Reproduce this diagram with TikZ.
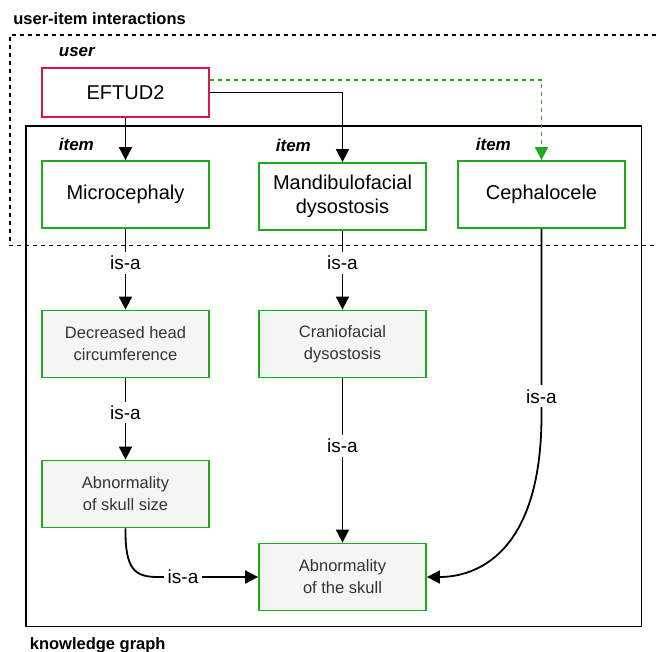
\documentclass[tikz,border=0pt]{standalone}
\usepackage{fontspec}
\setmainfont{Liberation Sans}
\usetikzlibrary{arrows.meta}
\definecolor{userred}{RGB}{224,20,76}
\definecolor{itemgreen}{RGB}{30,170,30}
\definecolor{conceptfill}{HTML}{F5F5F5}
\definecolor{concepttext}{HTML}{333333}

\begin{document}
\begin{tikzpicture}[x=1pt, y=-1pt, line width=1.8pt,
    >={Triangle[length=13pt,width=13pt]},
    entity/.style={draw=itemgreen, minimum width=167pt, minimum height=67pt,
	inner sep=0pt, align=center, font=\fontsize{20}{23.5}\selectfont},
    concept/.style={entity, fill=conceptfill, text=concepttext,
	font=\fontsize{16.5}{22}\selectfont},
    isa/.style={fill=white, inner sep=4pt, font=\fontsize{19}{22}\selectfont},
    group/.style={anchor=base west, inner sep=0pt,
	font=\fontsize{16.5}{20}\selectfont\bfseries},
    role/.style={anchor=base west, inner sep=0pt,
	font=\fontsize{17}{20}\selectfont\bfseries\itshape}]
    \useasboundingbox (0, 0) rectangle (656, 652);

    % user-item interactions (open on the right)
    \draw [dash pattern=on 4pt off 4pt] (656, 35) -- (10, 35) -- (10, 245.5) -- (656, 245.5);
    \path (12.5, 25) node [group] (uii) {user-item interactions};

    % knowledge graph
    \draw (26, 126) rectangle (641.5, 626.5);
    \path (29, 649) node [group] (kg) {knowledge graph};

    \path (58, 57) node [role] (ur) {user};
    \path (58, 151) node [role] (ir1) {item};
    \path (275, 152) node [role] (ir2) {item};
    \path (475, 151) node [role] (ir3) {item};

    \path (125.5, 92.5) node [entity, draw=userred, minimum height=49pt] (ef) {EFTUD2};
    \path (125.5, 194.5) node [entity] (mi) {Microcephaly};
    \path (342.5, 196.5) node [entity] (md) {Mandibulofacial\\dysostosis};
    \path (541.5, 194.5) node [entity] (ce) {Cephalocele};

    \path (125.5, 344) node [concept] (dh) {Decreased head\\circumference};
    \path (342.5, 344) node [concept] (cd) {Craniofacial\\dysostosis};
    \path (125.5, 494) node [concept] (ss) {Abnormality\\of skull size};
    \path (342.5, 577) node [concept] (sk) {Abnormality\\of the skull};

    % interactions
    \draw [->] (ef) -- (mi);
    \draw [->] (ef.east) -| (md.north);
    \draw [->, itemgreen, dash pattern=on 4pt off 4pt] ([yshift=12.5pt]ef.east) -| (ce.north);

    % is-a edges
    \draw [->] (mi) -- (dh) node[isa, pos=0.42] {is-a};
    \draw [->] (dh) -- (ss) node[isa, pos=0.42] {is-a};
    \draw [->] (md) -- (cd) node[isa, pos=0.41] {is-a};
    \draw [->] (cd) -- (sk) node[isa, pos=0.41] {is-a};
    \draw [->] (ss.south) .. controls (125, 570) and (135, 577) .. (158, 577)
	-- (sk.west) node[isa, pos=0.25] {is-a};
    \draw [->] (ce.south) -- (541.5, 415) node[isa, pos=0.9] {is-a}
	.. controls (541.5, 555) and (475, 577) .. (sk.east);
\end{tikzpicture}
\end{document}
